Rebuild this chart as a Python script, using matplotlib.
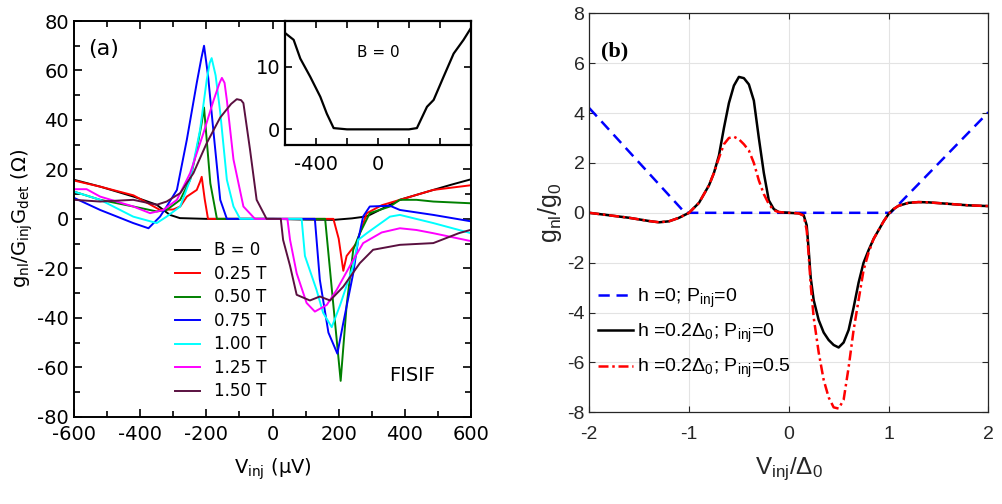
import matplotlib.pyplot as plt
from matplotlib.ticker import MultipleLocator

plt.rcParams["axes.unicode_minus"] = False
plt.rcParams["mathtext.default"] = "regular"

# ---- panel (a): measured non-local signal, one (V, g) table per field
v_b0 = [-600, -520, -420, -350, -330, -310, -280, -200, -100, 0, 100, 185, 240, 285, 330, 385, 430, 486, 540, 600]
g_b0 = [15.8, 13, 9, 5.7, 3.6, 1.6, 0.3, 0, 0, 0, -0.3, -0.4, 0.2, 1, 4, 7.7, 9.5, 11.7, 13.8, 16]

v_025 = [-600, -520, -420, -340, -300, -279, -259, -229, -219, -214, -205, -195, -150, 0, 150, 184, 200, 214,
         224, 254, 285, 330, 385, 486, 600]
g_025 = [15.5, 13, 9.5, 3.6, 3.8, 5, 9, 11.7, 15, 17, 8, 0, 0, 0, 0, 0, -8, -21, -15, -9.8, 2.3, 5.5, 7.7, 11.7, 13.6]

v_050 = [-600, -521, -421, -350, -320, -279, -249, -229, -215, -207, -188, -168, 0, 159, 184, 206, 224, 244, 264,
         294, 355, 385, 435, 486, 600]
g_050 = [11, 7.7, 5, 3, 3.6, 7.7, 15.8, 28, 38, 45, 14.4, 0, 0, 0, -35, -65.5, -35, -12.5, -5.8, 2.3, 5, 7.7, 7.7,
         7, 6.3]

v_075 = [-600, -521, -470, -421, -375, -340, -320, -289, -259, -229, -215, -207, -195, -178, -158, -138, 0, 128,
         143, 169, 196, 214, 244, 259, 274, 294, 355, 385, 486, 600]
g_075 = [8.5, 3.6, 0.9, -1.7, -3.8, 0.9, 5, 11.7, 32, 55, 65, 70, 58, 34.6, 7.7, 0, 0, 0, -24.6, -46, -54.5, -42,
         -22, -8.5, 1, 5, 5.3, 3.6, 1.6, -1]

v_100 = [-600, -521, -421, -350, -320, -279, -249, -219, -199, -190, -184, -172, -158, -138, -118, -98, 0, 88, 98,
         133, 153, 179, 204, 244, 259, 285, 355, 385, 486, 600]
g_100 = [11, 7.7, 0.9, -1.7, 0.9, 5, 15.8, 36, 56, 63, 65, 58, 43, 15.8, 5, 0, 0, 0, -15, -28.7, -38, -43.8, -35,
         -19, -8.5, -5.8, 0.9, 1.6, -1.7, -5.8]

v_125 = [-600, -562, -521, -421, -370, -330, -289, -249, -209, -178, -160, -153, -145, -138, -118, -88, -53, 0, 45,
         53, 73, 103, 128, 164, 194, 244, 274, 330, 385, 435, 486, 600]
g_125 = [12, 12, 9, 5, 2.3, 3.6, 7.7, 18.5, 34.6, 48, 55, 57, 55, 48, 24, 5, 0, 0, 0, -8.5, -22, -34, -37.5,
         -34.8, -28.7, -16.6, -9.8, -5.5, -3.8, -4.5, -5.8, -9]

v_150 = [-600, -521, -421, -350, -320, -279, -239, -199, -158, -125, -108, -95, -88, -68, -48, -18, 0, 25, 32, 53,
         73, 113, 143, 174, 214, 264, 304, 385, 486, 563, 600]
g_150 = [7.7, 7, 7.7, 5.7, 7, 10.4, 18.5, 30.6, 41, 46.5, 48.4, 48, 46.8, 28, 7.7, 0, 0, 0, -8.5, -19, -30.7, -33,
         -31.4, -33, -27.4, -17.9, -12.5, -10.5, -9.8, -5.8, -4.4]

field_labels = ["B = 0", "0.25 T", "0.50 T", "0.75 T", "1.00 T", "1.25 T", "1.50 T"]
field_colors = ["#000000", "#ff0000", "#008000", "#0000ff", "#00ffff", "#ff00ff", "#5a1040"]

# inset: B = 0 trace
v_inset = [-600, -544, -501, -437, -372, -330, -286, -200, 0, 200, 251, 316, 359, 423, 488, 552, 600]
g_inset = [15.4, 14.3, 11.3, 8.4, 5.2, 2.5, 0.2, 0, 0, 0, 0.2, 3.6, 4.7, 8.4, 12.1, 14.3, 16.2]

# ---- panel (b): theory curves
v_theory = [-2, -1.8, -1.6, -1.4, -1.3, -1.2, -1.1, -1.0, -0.9, -0.8, -0.75, -0.7, -0.65, -0.6, -0.55, -0.5,
            -0.45, -0.4, -0.35, -0.3, -0.25, -0.2, -0.15, -0.1, 0, 0.1, 0.15, 0.18, 0.2, 0.22, 0.25, 0.3, 0.35,
            0.4, 0.45, 0.5, 0.55, 0.6, 0.65, 0.7, 0.75, 0.8, 0.85, 0.9, 0.95, 1.0, 1.05, 1.1, 1.2, 1.3, 1.4, 1.6,
            1.8, 2]
g_h02_p0 = [0.0, -0.1, -0.2, -0.33, -0.38, -0.34, -0.2, 0.0, 0.4, 1.1, 1.6, 2.3, 3.4, 4.4, 5.1, 5.45, 5.4,
            5.15, 4.5, 3.0, 1.6, 0.5, 0.15, 0.03, 0, -0.02, -0.1, -0.5, -1.5, -2.6, -3.5, -4.3, -4.8, -5.1, -5.3,
            -5.4, -5.2, -4.7, -3.8, -2.8, -2.0, -1.5, -1.05, -0.7, -0.35, -0.05, 0.15, 0.28, 0.4, 0.43, 0.42, 0.36,
            0.3, 0.27]
g_h02_p05 = [0.0, -0.1, -0.2, -0.33, -0.38, -0.34, -0.2, 0.0, 0.4, 1.1, 1.6, 2.2, 2.75, 3.0, 3.05, 2.95, 2.75,
             2.5, 2.0, 1.3, 0.75, 0.35, 0.1, 0.03, 0, -0.02, -0.12, -0.7, -1.7, -2.9, -4.2, -5.6, -6.7, -7.4, -7.8,
             -7.85, -7.5, -6.2, -4.7, -3.5, -2.3, -1.6, -1.05, -0.7, -0.35, -0.05, 0.15, 0.28, 0.4, 0.43, 0.42,
             0.36, 0.3, 0.27]
v_h0 = [-2, -1.04, 1.02, 2]
g_h0 = [4.2, 0, 0, 4.03]

theory_labels = ["h =0; P$_{inj}$=0", "h =0.2Δ$_0$; P$_{inj}$=0", "h =0.2Δ$_0$; P$_{inj}$=0.5"]

fig = plt.figure(figsize=(10.03, 5.04), dpi=100)

# ---------------- panel (a)
ax = fig.add_axes([0.0738, 0.1732, 0.3958, 0.7851])
tables = [(v_b0, g_b0), (v_025, g_025), (v_050, g_050), (v_075, g_075),
          (v_100, g_100), (v_125, g_125), (v_150, g_150)]
for (v, g), lab, col in zip(tables, field_labels, field_colors):
    ax.plot(v, g, color=col, lw=1.4, label=lab)
ax.set_xlim(-600, 600)
ax.set_ylim(-80, 80)
ax.xaxis.set_major_locator(MultipleLocator(200))
ax.xaxis.set_minor_locator(MultipleLocator(100))
ax.yaxis.set_major_locator(MultipleLocator(20))
ax.yaxis.set_minor_locator(MultipleLocator(10))
ax.tick_params(which="both", direction="in", top=True, right=True, labelsize=14, width=1.2)
ax.tick_params(which="major", length=6)
ax.tick_params(which="minor", length=4)
ax.tick_params(axis="x", pad=6)
for s in ax.spines.values():
    s.set_linewidth(1.4)
ax.set_xlabel("V$_{inj}$ (μV)", fontsize=14, labelpad=9)
ax.set_ylabel("g$_{nl}$/G$_{inj}$G$_{det}$ (Ω)", fontsize=14, labelpad=2)
ax.text(0.035, 0.93, "(a)", transform=ax.transAxes, fontsize=16, va="center")
ax.text(0.91, 0.103, "FISIF", transform=ax.transAxes, fontsize=14, ha="right", va="center")
ax.legend(loc="upper left", bbox_to_anchor=(0.255, 0.443), frameon=False, fontsize=12,
          handlelength=1.5, handletextpad=0.8, labelspacing=0.33, borderpad=0, borderaxespad=0)

# inset
axi = fig.add_axes([0.2841, 0.7123, 0.1855, 0.2460])
axi.plot(v_inset, g_inset, color="k", lw=1.6)
axi.set_xlim(-600, 600)
axi.set_ylim(-2.5, 17.3)
axi.set_xticks([-400, -200, 0, 200, 400])
axi.set_xticklabels(["-400", "", "0", "", ""])
axi.set_yticks([0, 10])
axi.tick_params(direction="in", top=True, right=True, labelsize=14, length=5, width=1.2)
axi.tick_params(axis="x", pad=7)
for s in axi.spines.values():
    s.set_linewidth(1.6)
axi.text(0, 12.2, "B = 0", fontsize=11, ha="center", va="center")

# ---------------- panel (b)
dark = "#262626"
bx = fig.add_axes([0.5875, 0.1819, 0.3978, 0.7917])
bx.plot(v_h0, g_h0, color="#0000ff", lw=1.8, linestyle=(0, (4.5, 2.7)), label=theory_labels[0])
bx.plot(v_theory, g_h02_p0, color="k", lw=1.8, label=theory_labels[1])
bx.plot(v_theory, g_h02_p05, color="#ff0000", lw=1.8, linestyle=(0, (4.0, 1.5, 1.0, 1.5)),
        label=theory_labels[2])
bx.set_xlim(-2, 2)
bx.set_ylim(-8, 8)
bx.set_xticks([-2, -1, 0, 1, 2])
bx.set_yticks(range(-8, 9, 2))
bx.grid(True, color="#e3e3e3", lw=0.8)
bx.set_axisbelow(True)
bx.tick_params(direction="in", top=True, right=True, labelsize=14, length=4, width=0.8,
               colors=dark, labelfontfamily="Liberation Sans")
bx.tick_params(axis="x", pad=10)
for s in bx.spines.values():
    s.set_linewidth(0.9)
    s.set_color(dark)
bx.set_xlabel("V$_{inj}$/Δ$_0$", fontsize=17.5, family="Liberation Sans", color=dark, labelpad=9)
bx.set_ylabel("g$_{nl}$/g$_0$", fontsize=18, family="Liberation Sans", color=dark, labelpad=2)
bx.text(0.03, 0.905, "(b)", transform=bx.transAxes, fontsize=16, family="Liberation Serif",
        fontweight="bold", va="center")
bx.legend(loc="upper left", bbox_to_anchor=(0.022, 0.315), frameon=False,
          prop={"family": "Liberation Sans", "size": 14},
          handlelength=1.8, handletextpad=0.2, labelspacing=0.62, borderpad=0, borderaxespad=0)

fig.savefig("out.png", dpi=100)
